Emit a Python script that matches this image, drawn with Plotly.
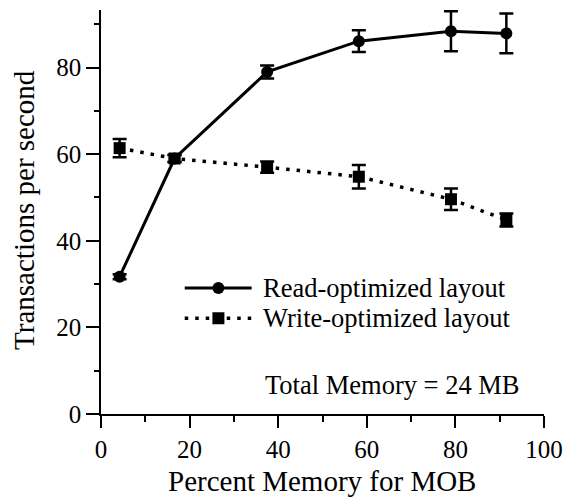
import plotly.graph_objects as go

# Percent of memory given to the MOB
mob_pct = [4.2, 16.6, 37.5, 58.2, 79.0, 91.5]

# Read-optimized layout: mean throughput and error half-width
read_tps = [31.7, 59.0, 79.0, 86.1, 88.4, 87.9]
read_err = [0.6, 0.8, 1.5, 2.5, 4.6, 4.6]

# Write-optimized layout: mean throughput and error half-width
write_tps = [61.4, 59.0, 57.0, 54.8, 49.6, 44.8]
write_err = [2.1, 0.8, 1.3, 2.7, 2.5, 1.5]

series_names = ["Read-optimized layout", "Write-optimized layout"]
note_text = "Total Memory = 24 MB"
x_title = "Percent Memory for MOB"
y_title = "Transactions per second"

FONT = "Liberation Serif, Times New Roman, serif"
BLACK = "#000000"


def serif(size):
    return dict(family=FONT, size=size, color=BLACK)


fig = go.Figure()

fig.add_trace(go.Scatter(
    x=mob_pct, y=read_tps, mode="lines+markers", name=series_names[0],
    line=dict(color=BLACK, width=3),
    marker=dict(symbol="circle", size=12, color=BLACK, line=dict(width=0)),
    error_y=dict(type="data", array=read_err, visible=True,
                 color=BLACK, thickness=2.5, width=7),
    showlegend=False,
))
fig.add_trace(go.Scatter(
    x=mob_pct, y=write_tps, mode="lines+markers", name=series_names[1],
    line=dict(color=BLACK, width=3.5, dash="3.5px,7px"),
    marker=dict(symbol="square", size=12, color=BLACK, line=dict(width=0)),
    error_y=dict(type="data", array=write_err, visible=True,
                 color=BLACK, thickness=2.5, width=7),
    showlegend=False,
))

# Hand-drawn key on an overlay axis pair spanning the plot area (0..1)
key_x = [0.189, 0.340]
key_mark_x = [0.265]
key_y = [0.312, 0.237]
for yk, sym, dash, w in [(key_y[0], "circle", "solid", 3),
                         (key_y[1], "square", "3.5px,7px", 3.5)]:
    fig.add_trace(go.Scatter(
        x=key_x, y=[yk, yk], mode="lines", xaxis="x2", yaxis="y2",
        line=dict(color=BLACK, width=w, dash=dash),
        showlegend=False, hoverinfo="skip",
    ))
    fig.add_trace(go.Scatter(
        x=key_mark_x, y=[yk], mode="markers", xaxis="x2", yaxis="y2",
        marker=dict(symbol=sym, size=12, color=BLACK, line=dict(width=0)),
        showlegend=False, hoverinfo="skip",
    ))

annotations = [
    dict(text=series_names[0], x=0.362, y=key_y[0], xref="paper", yref="paper",
         xanchor="left", yanchor="middle", showarrow=False, font=serif(26.5)),
    dict(text=series_names[1], x=0.362, y=key_y[1], xref="paper", yref="paper",
         xanchor="left", yanchor="middle", showarrow=False, font=serif(26.5)),
    dict(text=note_text, x=0.366, y=0.072, xref="paper", yref="paper",
         xanchor="left", yanchor="middle", showarrow=False, font=serif(26.5)),
    dict(text=x_title, x=0.499, y=-0.167, xref="paper", yref="paper",
         xanchor="center", yanchor="middle", showarrow=False, font=serif(29)),
    dict(text=y_title, x=-0.174, y=0.505, xref="paper", yref="paper",
         xanchor="center", yanchor="middle", textangle=-90, showarrow=False,
         font=serif(29)),
]

axis_common = dict(
    showline=True, linecolor=BLACK, linewidth=1.5,
    showgrid=False, zeroline=False,
    ticks="outside", tickcolor=BLACK, tickwidth=1.5,
    tickfont=serif(25),
)

fig.update_layout(
    template="none",
    width=564, height=500,
    margin=dict(l=101, r=20, t=10, b=86),
    paper_bgcolor="white", plot_bgcolor="white",
    font=serif(25),
    xaxis=dict(range=[0, 100], tickmode="array", tickvals=[0, 20, 40, 60, 80, 100],
               ticklen=12,
               minor=dict(tickmode="array", tickvals=[10, 30, 50, 70, 90],
                          ticks="outside", ticklen=6, tickwidth=1.5, tickcolor=BLACK),
               **axis_common),
    yaxis=dict(range=[0, 93.3], tickmode="array", tickvals=[0, 20, 40, 60, 80],
               ticklen=13,
               minor=dict(tickmode="array", tickvals=[10, 30, 50, 70, 90],
                          ticks="outside", ticklen=5, tickwidth=1.5, tickcolor=BLACK),
               **axis_common),
    xaxis2=dict(range=[0, 1], overlaying="x", visible=False),
    yaxis2=dict(range=[0, 1], overlaying="y", visible=False),
    annotations=annotations,
    showlegend=False,
)

fig.write_html("out.html")
